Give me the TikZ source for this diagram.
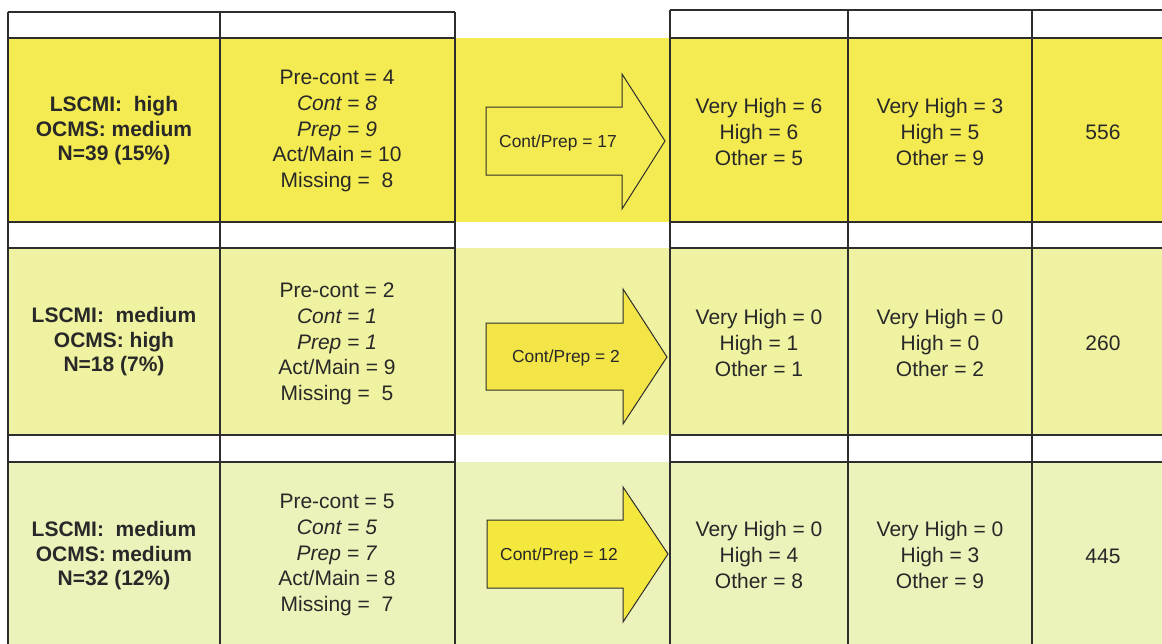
\documentclass[tikz,border=0pt]{standalone}
\usepackage{fontspec}
\setmainfont{Liberation Sans}
\definecolor{rowA}{RGB}{244,235,82}
\definecolor{rowB}{RGB}{239,242,160}
\definecolor{rowC}{RGB}{236,242,186}
\definecolor{arrB}{RGB}{243,229,72}
\definecolor{arrC}{RGB}{244,231,62}
\definecolor{linecol}{RGB}{45,45,45}
\definecolor{txt}{RGB}{40,40,40}
\begin{document}
\begin{tikzpicture}[x=1pt,y=-1pt,
  gridline/.style={draw=linecol,line width=1.2pt},
  cell/.style={align=center,text=txt,font=\fontsize{21}{25.6}\selectfont,inner sep=0pt},
  bcell/.style={align=center,text=txt,font=\fontsize{21}{24.5}\selectfont\bfseries,inner sep=0pt},
  atext/.style={text=txt,font=\fontsize{17.4}{20}\selectfont,inner sep=0pt},
  arrowbody/.style={draw=linecol,line width=1pt,line join=miter}]
\useasboundingbox (0,0) rectangle (1162,643);
\clip (0,0) rectangle (1162,643);
\fill[white] (0,0) rectangle (1162,643);
% row bands
\fill[rowA] (8,38) rectangle (1170,222);
\fill[rowB] (8,248) rectangle (1170,435);
\fill[rowC] (8,462) rectangle (1170,650);
% arrows
\filldraw[arrowbody,fill=rowA] (486,107) -- (622,107) -- (622,74) -- (665,141) -- (622,209) -- (622,175) -- (486,175) -- cycle;
\filldraw[arrowbody,fill=arrB] (486,323) -- (623,323) -- (623,289) -- (667,357) -- (623,424) -- (623,390) -- (486,390) -- cycle;
\filldraw[arrowbody,fill=arrC] (487,520) -- (623,520) -- (623,487) -- (668,554) -- (623,622) -- (623,588) -- (487,588) -- cycle;
% left table grid
\foreach \yy in {12,38,222,248,435,462}
  \draw[gridline] (8,\yy) -- (455,\yy);
\foreach \xx in {8,220,455}
  \draw[gridline] (\xx,12) -- (\xx,650);
% right table grid
\foreach \yy in {10,38,222,248,435,462}
  \draw[gridline] (670,\yy) -- (1170,\yy);
\foreach \xx in {670,848,1032}
  \draw[gridline] (\xx,10) -- (\xx,650);
% row 1
\node[bcell] (r1a) at (114,131) {LSCMI:\ \ high\\OCMS: medium\\N=39 (15\%)};
\node[cell] (r1b) at (337,131) {Pre-cont = 4\\\textit{Cont = 8}\\\textit{Prep = 9}\\Act/Main = 10\\Missing =\ \ 8};
\node[atext] (r1c) at (558,143) {Cont/Prep = 17};
\node[cell] (r1d) at (759,132) {Very High = 6\\High = 6\\Other = 5};
\node[cell] (r1e) at (940,132) {Very High = 3\\High = 5\\Other = 9};
\node[cell] (r1f) at (1103,132) {556};
% row 2
\node[bcell] (r2a) at (114,342) {LSCMI:\ \ medium\\OCMS: high\\N=18 (7\%)};
\node[cell] (r2b) at (337,344) {Pre-cont = 2\\\textit{Cont = 1}\\\textit{Prep = 1}\\Act/Main = 9\\Missing =\ \ 5};
\node[atext] (r2c) at (566,358) {Cont/Prep = 2};
\node[cell] (r2d) at (759,343) {Very High = 0\\High = 1\\Other = 1};
\node[cell] (r2e) at (940,343) {Very High = 0\\High = 0\\Other = 2};
\node[cell] (r2f) at (1103,343) {260};
% row 3
\node[bcell] (r3a) at (114,556) {LSCMI:\ \ medium\\OCMS: medium\\N=32 (12\%)};
\node[cell] (r3b) at (337,555) {Pre-cont = 5\\\textit{Cont = 5}\\\textit{Prep = 7}\\Act/Main = 8\\Missing =\ \ 7};
\node[atext] (r3c) at (559,556) {Cont/Prep = 12};
\node[cell] (r3d) at (759,555) {Very High = 0\\High = 4\\Other = 8};
\node[cell] (r3e) at (940,555) {Very High = 0\\High = 3\\Other = 9};
\node[cell] (r3f) at (1103,556) {445};
\end{tikzpicture}
\end{document}
